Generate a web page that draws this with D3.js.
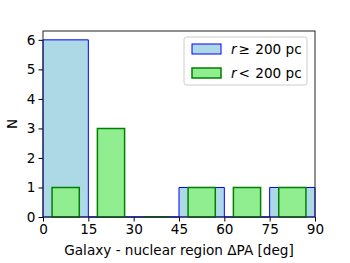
<!DOCTYPE html>
<html>
<head>
<meta charset="utf-8">
<script src="https://cdn.jsdelivr.net/npm/d3@7"></script>
<style>
  body { margin: 0; background: #fff; }
  text { font-family: "DejaVu Sans", sans-serif; }
</style>
</head>
<body>
<svg id="chart" width="350" height="263"></svg>
<script>
// bins of 15 deg
const binEdges = [0, 15, 30, 45, 60, 75, 90];
const countsLarge = [6, 0, 0, 1, 0, 1];   // r >= 200 pc
const countsSmall = [1, 3, 0, 1, 1, 1];   // r < 200 pc
const xTicks = [0, 15, 30, 45, 60, 75, 90];
const yTicks = [0, 1, 2, 3, 4, 5, 6];

const fontSize = "13.6px";
const margin = { top: 31, right: 35, bottom: 46, left: 43 };
const width = 350 - margin.left - margin.right;
const height = 263 - margin.top - margin.bottom;

const svg = d3.select("#chart")
  .append("g")
  .attr("transform", `translate(${margin.left}, ${margin.top})`);

const x = d3.scaleLinear().domain([0, 90]).range([0, width]);
const y = d3.scaleLinear().domain([0, 6.3]).range([height, 0]);

const binsLarge = countsLarge.map((c, i) => ({ x0: binEdges[i], x1: binEdges[i + 1], n: c }));
// green bars are narrower (60% of bin), centered in bin
const binsSmall = countsSmall.map((c, i) => {
  const w = binEdges[i + 1] - binEdges[i];
  return { x0: binEdges[i] + 0.2 * w, x1: binEdges[i + 1] - 0.2 * w, n: c };
});

// bar outline as a path so zero-height bars still show their edge
const barPath = (d) => {
  const x0 = x(d.x0), x1 = x(d.x1), y0 = y(0), y1 = y(d.n);
  return `M${x0},${y0}V${y1}H${x1}V${y0}Z`;
};

// blue bars
svg.selectAll(".large")
  .data(binsLarge)
  .enter()
  .append("path")
  .attr("class", "large")
  .attr("d", barPath)
  .attr("fill", "lightblue")
  .attr("stroke", "blue")
  .attr("stroke-width", 1);

// green bars
svg.selectAll(".small")
  .data(binsSmall)
  .enter()
  .append("path")
  .attr("class", "small")
  .attr("d", barPath)
  .attr("fill", "lightgreen")
  .attr("stroke", "green")
  .attr("stroke-width", 1.5);

// axes
const xAxis = svg.append("g")
  .attr("transform", `translate(0, ${height})`)
  .call(d3.axisBottom(x).tickValues(xTicks).tickFormat(d3.format("d")).tickSize(4.5).tickPadding(3));

const yAxis = svg.append("g")
  .call(d3.axisLeft(y).tickValues(yTicks).tickFormat(d3.format("d")).tickSize(4.5).tickPadding(3));

[xAxis, yAxis].forEach((g) => {
  g.attr("font-family", null).attr("font-size", null);
  g.select(".domain").remove();
  g.selectAll("text").attr("font-size", fontSize).attr("fill", "#000");
  g.selectAll("line").attr("stroke", "#000").attr("stroke-width", 1);
});

// frame
svg.append("rect")
  .attr("x", 0).attr("y", 0)
  .attr("width", width).attr("height", height)
  .attr("fill", "none")
  .attr("stroke", "#222")
  .attr("stroke-width", 1);

// axis labels
svg.append("text")
  .attr("x", width / 2)
  .attr("y", height + 38)
  .attr("text-anchor", "middle")
  .attr("font-size", fontSize)
  .text("Galaxy - nuclear region ΔPA [deg]");

svg.append("text")
  .attr("transform", "rotate(-90)")
  .attr("x", -height / 2)
  .attr("y", -26)
  .attr("text-anchor", "middle")
  .attr("font-size", fontSize)
  .text("N");

// legend
const legend = svg.append("g").attr("transform", `translate(${184 - margin.left}, ${37 - margin.top})`);
legend.append("rect")
  .attr("width", 123).attr("height", 48)
  .attr("rx", 2.5)
  .attr("fill", "#fff")
  .attr("fill-opacity", 0.8)
  .attr("stroke", "#ccc")
  .attr("stroke-width", 1);

const legendItems = [
  { sym: "≥", label: "200 pc", fill: "lightblue", stroke: "blue", sw: 1 },
  { sym: "<", label: "200 pc", fill: "lightgreen", stroke: "green", sw: 1.5 },
];

legendItems.forEach((d, i) => {
  const row = legend.append("g").attr("transform", `translate(8, ${7 + i * 24})`);
  row.append("rect")
    .attr("width", 29).attr("height", 10)
    .attr("fill", d.fill)
    .attr("stroke", d.stroke)
    .attr("stroke-width", d.sw);
  const t = row.append("text")
    .attr("x", 39)
    .attr("y", 10)
    .attr("font-size", fontSize);
  t.append("tspan").attr("font-style", "italic").text("r");
  t.append("tspan").attr("dx", 2).text(d.sym);
  t.append("tspan").attr("dx", 1).text(" " + d.label);
});
</script>
</body>
</html>
